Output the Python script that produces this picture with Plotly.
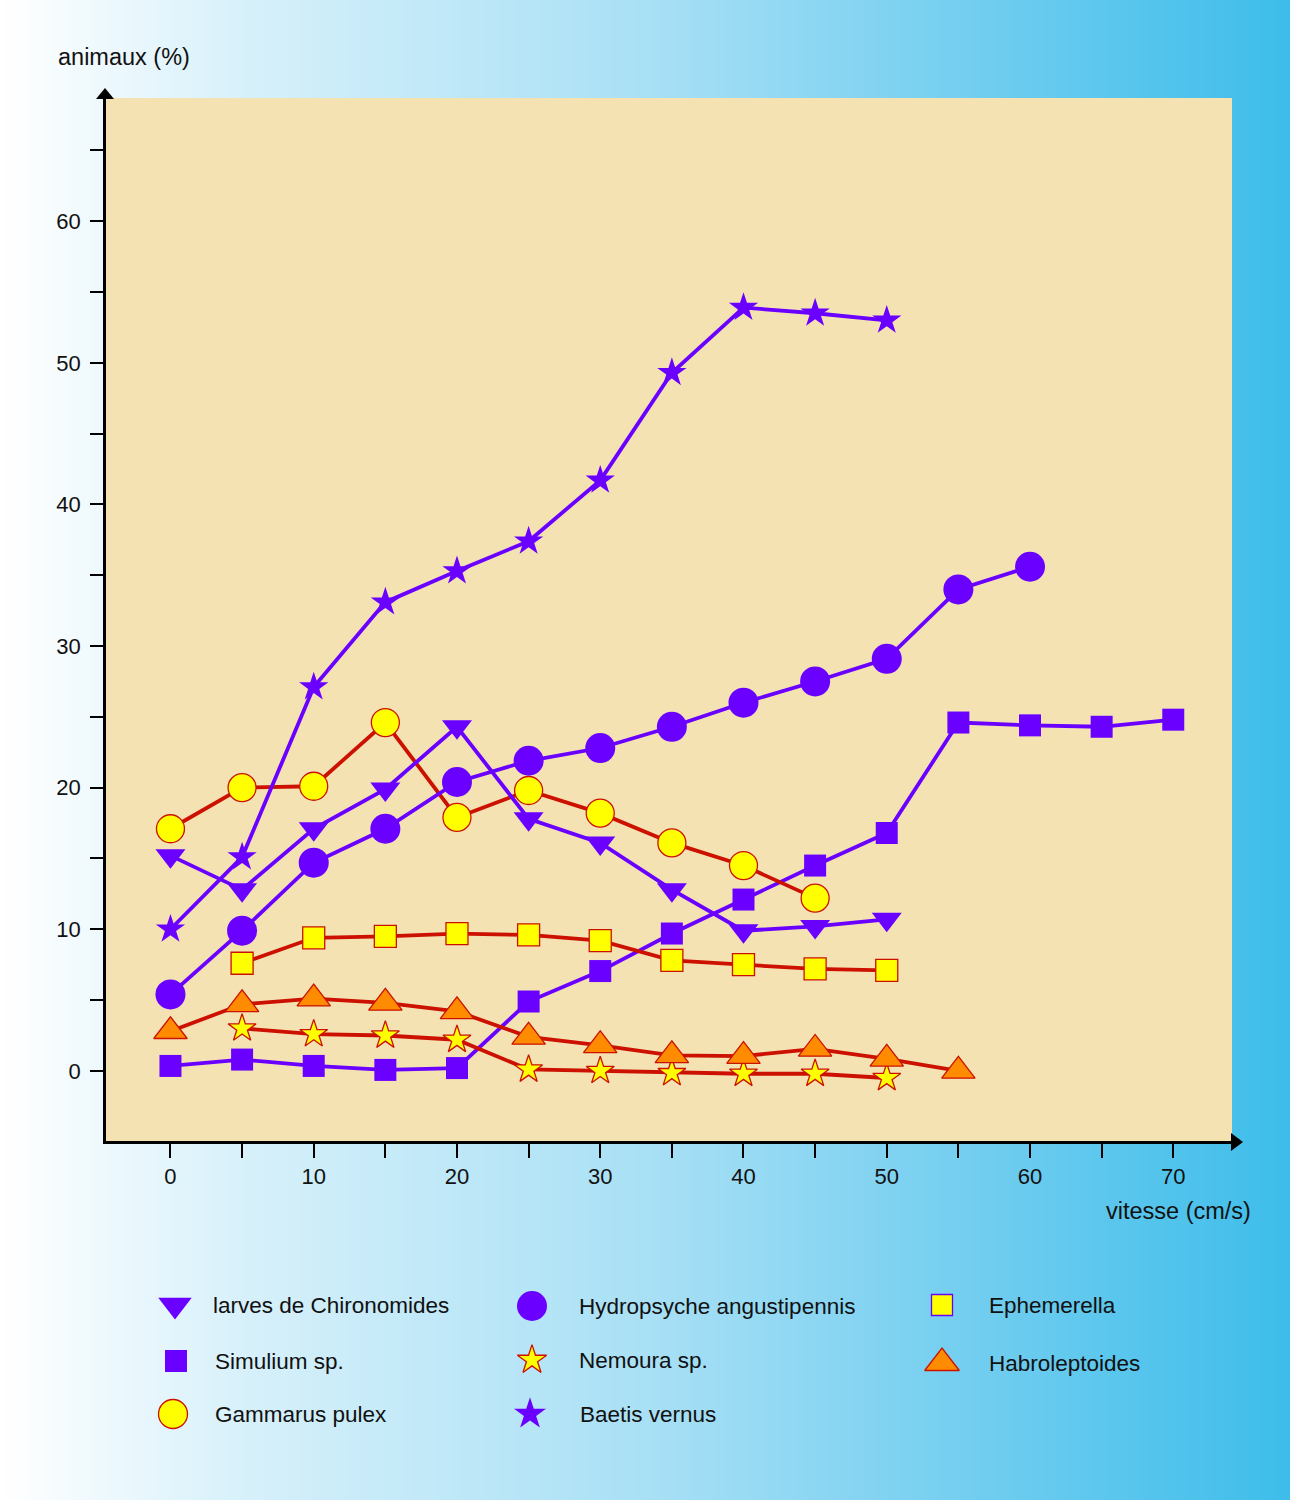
import plotly.graph_objects as go

W, H = 1290, 1500

# ---------------- data ----------------
vitesse = [0, 5, 10, 15, 20, 25, 30, 35, 40, 45, 50, 55, 60, 65, 70]

chironomides = [15.2, 12.8, 17.1, 19.9, 24.3, 17.8, 16.1, 12.8, 9.9, 10.2, 10.7]
hydropsyche = [5.4, 9.9, 14.7, 17.1, 20.4, 21.9, 22.8, 24.3, 26.0, 27.5, 29.1, 34.0, 35.6]
ephemerella = [None, 7.6, 9.4, 9.5, 9.7, 9.6, 9.2, 7.8, 7.5, 7.2, 7.1]
simulium = [0.35, 0.8, 0.35, 0.07, 0.2, 4.9, 7.05, 9.7, 12.1, 14.5, 16.8, 24.6, 24.4, 24.3, 24.8]
gammarus = [17.1, 20.0, 20.1, 24.6, 17.9, 19.8, 18.2, 16.1, 14.5, 12.2]
nemoura = [None, 3.0, 2.6, 2.5, 2.2, 0.1, 0.0, -0.15, -0.2, -0.2, -0.5]
baetis = [10.0, 15.1, 27.1, 33.1, 35.3, 37.4, 41.7, 49.3, 53.9, 53.5, 53.0]
habroleptoides = [2.8, 4.7, 5.1, 4.8, 4.2, 2.4, 1.8, 1.1, 1.05, 1.55, 0.85, 0.0]

x_ticks = [0, 5, 10, 15, 20, 25, 30, 35, 40, 45, 50, 55, 60, 65, 70]
x_labels = ["0", "", "10", "", "20", "", "30", "", "40", "", "50", "", "60", "", "70"]
y_ticks = [0, 5, 10, 15, 20, 25, 30, 35, 40, 45, 50, 55, 60, 65]
y_labels = ["0", "", "10", "", "20", "", "30", "", "40", "", "50", "", "60", ""]

# ---------------- styles ----------------
PURPLE = "#6A00FF"
RED = "#CC1100"
YELLOW = "#FFFF00"
ORANGE = "#FF8C00"
BEIGE = "#F4E2B3"
FONT = "Liberation Sans, Arial, sans-serif"
TXT = "#111111"

# (name, values, symbol, size, fill, edge colour, edge width, line colour, legend size, legend edge)
series = [
    ("Simulium sp.", simulium, "square", 22, PURPLE, PURPLE, 0, PURPLE, 22, PURPLE),
    ("Nemoura sp.", nemoura, "star", 21, YELLOW, RED, 1.3, RED, 22, RED),
    ("Habroleptoides", habroleptoides, "triangle-up", 29, ORANGE, RED, 1.3, RED, 30, RED),
    ("Ephemerella", ephemerella, "square", 22, YELLOW, RED, 1.3, RED, 21, PURPLE),
    ("Gammarus pulex", gammarus, "circle", 28, YELLOW, RED, 1.3, RED, 29, RED),
    ("Hydropsyche angustipennis", hydropsyche, "circle", 30, PURPLE, PURPLE, 0, PURPLE, 30, PURPLE),
    ("larves de Chironomides", chironomides, "triangle-down", 26, PURPLE, PURPLE, 0, PURPLE, 29, PURPLE),
    ("Baetis vernus", baetis, "star", 22, PURPLE, PURPLE, 0, PURPLE, 24, PURPLE),
]

fig = go.Figure()

for name, vals, sym, size, fill, edge, ew, lc, _ls, _le in series:
    fig.add_trace(go.Scatter(
        x=vitesse[:len(vals)], y=vals, mode="lines+markers", name=name,
        showlegend=False, connectgaps=False, cliponaxis=False,
        line=dict(color=lc, width=3.8),
        marker=dict(symbol=sym, size=size, color=fill, line=dict(color=edge, width=ew)),
        xaxis="x", yaxis="y",
    ))

# ---------------- custom legend (pixel-coordinate subplot) ----------------
legend_layout = {
    "larves de Chironomides": (175, 1305),
    "Simulium sp.": (176, 1361),
    "Gammarus pulex": (173, 1414),
    "Hydropsyche angustipennis": (532, 1306),
    "Nemoura sp.": (532, 1360),
    "Baetis vernus": (530, 1414),
    "Ephemerella": (942, 1305),
    "Habroleptoides": (942, 1363),
}
text_x = {175: 211, 176: 213, 173: 213, 532: 577, 530: 578, 942: 987}
for name, vals, sym, size, fill, edge, ew, lc, ls, le in series:
    px, py = legend_layout[name]
    fig.add_trace(go.Scatter(
        x=[px], y=[py], mode="markers", showlegend=False, hoverinfo="skip",
        marker=dict(symbol=sym, size=ls, color=fill,
                    line=dict(color=le, width=1.3 if fill != PURPLE else 0)),
        xaxis="x2", yaxis="y2", cliponaxis=False,
    ))
    fig.add_annotation(x=text_x[px], y=py, xref="x2", yref="y2", text=name,
                       showarrow=False, xanchor="left", yanchor="middle",
                       font=dict(family=FONT, size=22.5, color=TXT))

# ---------------- background gradient ----------------
stops = [(0, (255, 255, 255)), (250, (214, 240, 250)), (650, (168, 224, 245)),
         (950, (118, 207, 240)), (1290, (62, 189, 234))]


def grad(xp):
    for (x0, c0), (x1, c1) in zip(stops[:-1], stops[1:]):
        if x0 <= xp <= x1:
            t = (xp - x0) / (x1 - x0)
            return "rgb(%d,%d,%d)" % tuple(round(a + (b - a) * t) for a, b in zip(c0, c1))
    return "rgb(%d,%d,%d)" % stops[-1][1]


shapes = []
step = 6
for xp in range(0, W, step):
    shapes.append(dict(type="rect", xref="paper", yref="paper",
                       x0=xp / W, x1=min(xp + step + 1, W) / W, y0=0, y1=1,
                       fillcolor=grad(xp + step / 2), line=dict(width=0), layer="below"))

# plot area
PL, PR, PT, PB = 106, 1232, 98, 1141
shapes.append(dict(type="rect", xref="paper", yref="paper",
                   x0=PL / W, x1=PR / W, y0=1 - PB / H, y1=1 - PT / H,
                   fillcolor=BEIGE, line=dict(width=0), layer="below"))


def P(x, y):
    return "%f,%f" % (x / W, 1 - y / H)


# arrowheads
shapes.append(dict(type="path", xref="paper", yref="paper",
                   path="M%s L%s L%s Z" % (P(PL - 10, PT + 1), P(PL + 8, PT + 1), P(PL - 1, PT - 10)),
                   fillcolor="black", line=dict(width=0), layer="above"))
shapes.append(dict(type="path", xref="paper", yref="paper",
                   path="M%s L%s L%s Z" % (P(PR - 1, PB - 8), P(PR - 1, PB + 10), P(PR + 11, PB + 1)),
                   fillcolor="black", line=dict(width=0), layer="above"))

fig.update_layout(
    width=W, height=H, autosize=False,
    margin=dict(l=0, r=0, t=0, b=0),
    paper_bgcolor="white", plot_bgcolor="rgba(0,0,0,0)",
    font=dict(family=FONT, color=TXT, size=22),
    shapes=shapes,
    xaxis=dict(domain=[PL / W, PR / W], range=[-4.5, 74.1], showgrid=False, zeroline=False,
               showline=True, linecolor="black", linewidth=2.5,
               ticks="outside", ticklen=14, tickwidth=1.8, tickcolor="black",
               tickvals=x_ticks, ticktext=x_labels, tickfont=dict(size=22, color=TXT),
               anchor="y", automargin=False),
    yaxis=dict(domain=[1 - PB / H, 1 - PT / H], range=[-4.95, 68.7], showgrid=False, zeroline=False,
               showline=True, linecolor="black", linewidth=2.5,
               ticks="outside", ticklen=13, tickwidth=1.8, tickcolor="black",
               tickvals=y_ticks, ticktext=y_labels, tickfont=dict(size=22, color=TXT),
               ticklabelstandoff=5, anchor="x", automargin=False),
    xaxis2=dict(domain=[0, 1], range=[0, W], visible=False, anchor="y2", fixedrange=True),
    yaxis2=dict(domain=[0, 0.18], range=[H, H - 0.18 * H], visible=False, anchor="x2", fixedrange=True),
)

fig.add_annotation(x=56 / W, y=1 - 57 / H, xref="paper", yref="paper", text="animaux (%)",
                   showarrow=False, xanchor="left", yanchor="middle",
                   font=dict(family=FONT, size=23.5, color=TXT))
fig.add_annotation(x=1253 / W, y=1 - 1211 / H, xref="paper", yref="paper", text="vitesse (cm/s)",
                   showarrow=False, xanchor="right", yanchor="middle",
                   font=dict(family=FONT, size=23.5, color=TXT))

fig.write_html(
    "out.html",
    config={"displayModeBar": False},
    post_script="document.body.style.margin='0';document.body.style.padding='0';"
                "document.body.style.overflow='hidden';",
)
